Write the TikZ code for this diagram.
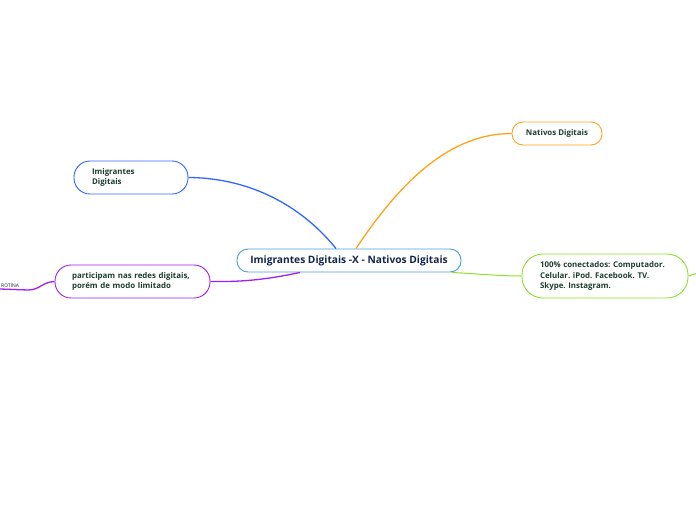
\documentclass[tikz,border=0pt]{standalone}
\usepackage{fontspec}
\setmainfont{Open Sans}
\frenchspacing
\definecolor{cblue}{HTML}{4A9FD8}
\definecolor{iblue}{HTML}{3366FF}
\definecolor{orng}{HTML}{FFA31A}
\definecolor{purp}{HTML}{A020F0}
\definecolor{grn}{HTML}{8EE02A}
\definecolor{navy}{HTML}{14244A}
\definecolor{dgreen}{HTML}{1E3D2F}
\begin{document}
\begin{tikzpicture}[x=1pt,y=1pt,
  leaf/.style={draw, line width=0.9pt, fill=white, align=left, font=\fontsize{7.9}{10.5}\selectfont\bfseries, text=dgreen, inner sep=0pt},
  conn/.style={line width=1.3pt}]
\useasboundingbox (0,0) rectangle (696,-520);
\fill[white] (0,0) rectangle (696,-520);
% nodes
\node[draw=cblue, line width=0.9pt, rounded corners=11pt, minimum width=224pt, minimum height=23pt, inner sep=0pt, text=navy,
  font=\fontsize{10.2}{12}\selectfont\bfseries] (c) at (349,-260.5) {Imigrantes Digitais -X - Nativos Digitais};
\node[leaf, draw=iblue, rounded corners=16pt, minimum width=114pt, minimum height=33pt, text width=78pt] (im) at (131,-177.5) {Imigrantes\\Digitais};
\node[leaf, draw=orng, rounded corners=11pt, minimum width=90pt, minimum height=23pt, align=center] (na) at (557,-133.5) {Nativos Digitais};
\node[leaf, draw=purp, rounded corners=16pt, minimum width=155pt, minimum height=33pt, text width=121pt] (pa) at (132.5,-281.5) {participam nas redes digitais,\\porém de modo limitado};
\node[leaf, draw=grn, rounded corners=21pt, minimum width=166pt, minimum height=44pt, text width=130pt] (co) at (605,-276) {100\% conectados: Computador.\\Celular. iPod. Facebook. TV.\\Skype. Instagram.};
\node[anchor=south west, inner sep=1pt, font=\fontsize{5}{6}\selectfont, text=navy] (rot) at (0,-289) {ROTINA};
\coordinate (rotend) at (28,-290);
\coordinate (redge) at (696,-273.5);
% connectors
\draw[conn, iblue] (im.east) .. controls (255,-178) and (305,-210) .. ([xshift=-13pt]c.north);
\draw[conn, orng] ([xshift=7pt]c.north) .. controls (395,-190) and (445,-133.5) .. (na.west);
\draw[conn, purp] ([xshift=-49pt]c.south) .. controls (265,-280) and (240,-282) .. (pa.east);
\draw[conn, purp] (rot.south west) -- (rotend) .. controls (40,-290) and (42,-282) .. (pa.west);
\draw[conn, grn, line width=1pt] ([xshift=103pt]c.south) .. controls (480,-274) and (500,-276) .. (co.west);
\draw[grn, line width=1pt] (co.east) -- (redge);
\end{tikzpicture}
\end{document}
